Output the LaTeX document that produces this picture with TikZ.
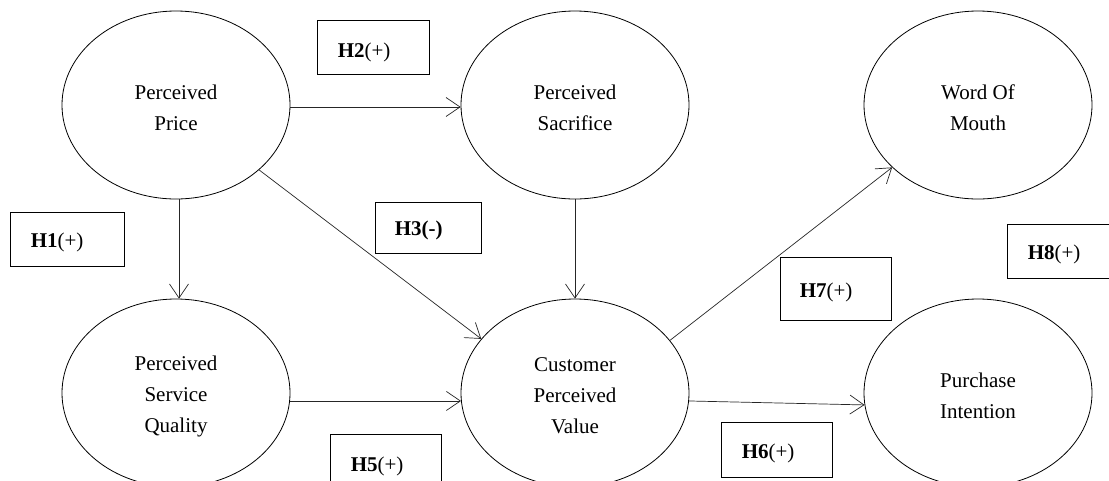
\documentclass[tikz,border=0pt]{standalone}
\usepackage{fontspec}
\setmainfont{Liberation Serif}
\usetikzlibrary{shapes.geometric,arrows.meta}
\tikzset{
  construct/.style={draw=black, line width=0.8pt, ellipse, minimum width=228pt, minimum height=188pt, inner sep=0pt},
  ctext/.style={align=center, inner sep=0pt, yshift=-3pt, font=\fontsize{21}{31}\selectfont},
  hbox/.style={draw=black, line width=0.8pt, rectangle, inner sep=0pt},
  hlab/.style={anchor=west, inner sep=0pt, font=\fontsize{21}{25}\selectfont},
  arr/.style={draw=black!85, line width=0.7pt, -{Straight Barb[length=14pt,width=19pt,line width=0.7pt]}}
}
\begin{document}
\begin{tikzpicture}[x=1pt,y=-1pt]
\clip (0,0) rectangle (1109,480);
\fill[white] (0,0) rectangle (1109,480);
% constructs
\node[construct, label={[ctext]center:Perceived\\Price}] (pp) at (176,105) {};
\node[construct, label={[ctext]center:Perceived\\Sacrifice}] (ps) at (575,105) {};
\node[construct, label={[ctext]center:Word Of\\Mouth}] (wom) at (978,105) {};
\node[construct, label={[ctext]center:Perceived\\Service\\Quality}] (psq) at (176,393) {};
\node[construct, label={[ctext]center:Customer\\Perceived\\Value}] (cpv) at (575,393) {};
\node[construct, label={[ctext]center:Purchase\\Intention}] (pi) at (978,393) {};
% hypothesis boxes
\node[hbox, minimum width=114pt, minimum height=54pt] (h1) at (67,239) {};
\node[hlab] (h1t) at ([shift={(21,3)}]h1.west) {\textbf{H1}(+)};
\node[hbox, minimum width=112pt, minimum height=54pt] (h2) at (373,47) {};
\node[hlab] (h2t) at ([shift={(21,5)}]h2.west) {\textbf{H2}(+)};
\node[hbox, minimum width=106pt, minimum height=51pt] (h3) at (428,227.5) {};
\node[hlab] (h3t) at ([shift={(20,3)}]h3.west) {\textbf{H3(-)}};
\node[hbox, minimum width=111pt, minimum height=54pt] (h5) at (385.5,461) {};
\node[hlab] (h5t) at ([shift={(21,5)}]h5.west) {\textbf{H5}(+)};
\node[hbox, minimum width=111pt, minimum height=55pt] (h6) at (776.5,449.5) {};
\node[hlab] (h6t) at ([shift={(21,4)}]h6.west) {\textbf{H6}(+)};
\node[hbox, minimum width=111pt, minimum height=63pt] (h7) at (835.5,288.5) {};
\node[hlab] (h7t) at ([shift={(20,4)}]h7.west) {\textbf{H7}(+)};
\node[hbox, minimum width=112pt, minimum height=54pt] (h8) at (1063,251) {};
\node[hlab] (h8t) at ([shift={(21,3)}]h8.west) {\textbf{H8}(+)};
% connectors
\draw[arr] (pp.-1.5) -- (ps.181.5);
\draw[arr] ([xshift=3pt]pp.south) -- ([xshift=3pt]psq.north);
\draw[arr] (pp.-38) -- (cpv.150);
\draw[arr] (ps.south) -- (cpv.north);
\draw[arr] (psq.-4.5) -- (cpv.184.5);
\draw[arr] (cpv.-4.5) -- (pi.186);
\draw[arr] (cpv.29) -- (wom.216);
\end{tikzpicture}
\end{document}
